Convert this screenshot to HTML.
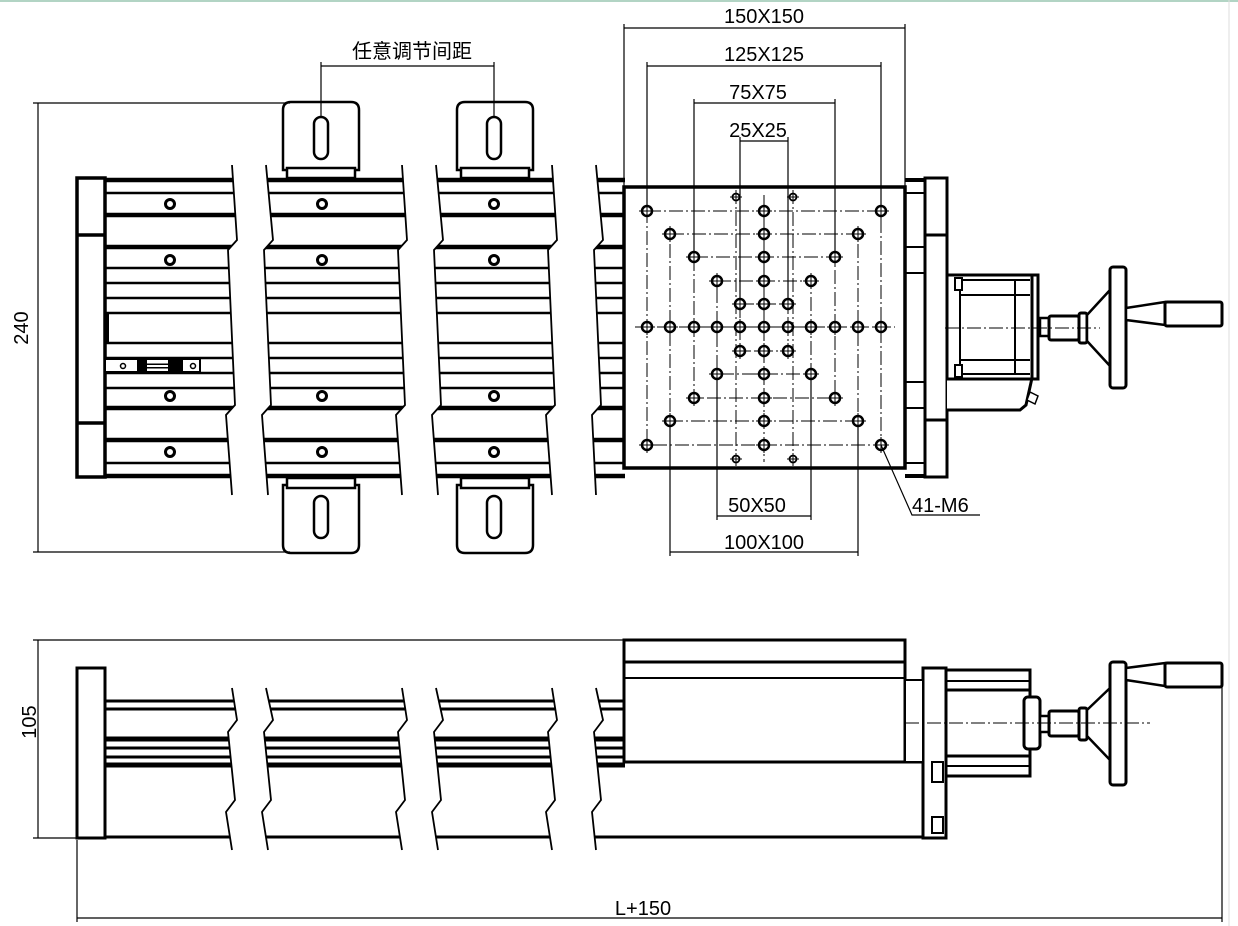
<!DOCTYPE html>
<html><head><meta charset="utf-8"><style>
html,body{margin:0;padding:0;background:#fff}
svg{display:block}
text{font-family:"Liberation Sans","Noto Sans CJK SC",sans-serif;font-size:20px;fill:#000}
</style></head><body>
<svg width="1238" height="926" viewBox="0 0 1238 926" xmlns="http://www.w3.org/2000/svg">
<defs>
<g id="h"><circle r="5" fill="#fff" stroke="#000" stroke-width="2.5"/><line x1="-8" y1="0" x2="8" y2="0" stroke="#000" stroke-width="1"/><line x1="0" y1="-8" x2="0" y2="8" stroke="#000" stroke-width="1"/></g>
<g id="hs"><circle r="3.5" fill="#fff" stroke="#000" stroke-width="1.8"/><line x1="-6" y1="0" x2="6" y2="0" stroke="#000" stroke-width="1"/><line x1="0" y1="-6" x2="0" y2="6" stroke="#000" stroke-width="1"/></g>
<g id="rh"><circle r="4.5" fill="#fff" stroke="#000" stroke-width="3"/></g>
</defs>
<line x1="0" y1="1" x2="1238" y2="1" stroke="#6a8" stroke-width="1"/>
<line x1="1229" y1="0" x2="1229" y2="926" stroke="#ddd" stroke-width="1"/>

<!-- ===== TOP VIEW ===== -->
<g stroke="#000" fill="none">
<g stroke-width="2.5">
<line x1="105" y1="193" x2="625" y2="193"/><line x1="105" y1="268" x2="625" y2="268"/>
<line x1="105" y1="283" x2="625" y2="283"/><line x1="105" y1="298" x2="625" y2="298"/>
<line x1="105" y1="313" x2="625" y2="313"/><line x1="105" y1="343" x2="625" y2="343"/>
<line x1="105" y1="358" x2="625" y2="358"/><line x1="105" y1="373" x2="625" y2="373"/>
<line x1="105" y1="388" x2="625" y2="388"/><line x1="105" y1="463" x2="625" y2="463"/>
</g>
<g stroke-width="4.5">
<line x1="77" y1="180" x2="625" y2="180"/><line x1="105" y1="215" x2="625" y2="215"/>
<line x1="105" y1="247" x2="625" y2="247"/><line x1="105" y1="408" x2="625" y2="408"/>
<line x1="105" y1="440" x2="625" y2="440"/><line x1="77" y1="476" x2="625" y2="476"/>
</g>
<line x1="905" y1="180" x2="947" y2="180" stroke-width="4"/>
<line x1="905" y1="476" x2="947" y2="476" stroke-width="4"/>
<g stroke-width="2"><line x1="905" y1="193" x2="925" y2="193"/><line x1="905" y1="247" x2="925" y2="247"/><line x1="905" y1="273" x2="925" y2="273"/><line x1="905" y1="382" x2="925" y2="382"/><line x1="905" y1="408" x2="925" y2="408"/><line x1="905" y1="463" x2="925" y2="463"/></g>
</g>
<g fill="#fff" stroke="none">
<polygon points="232,165 237,240 228,250 235,405 226,415 232,495 268,495 262,415 271,405 264,250 273,240 266,165"/>
<polygon points="402,165 407,240 398,250 405,405 396,415 402,495 438,495 432,415 441,405 434,250 443,240 436,165"/>
<polygon points="552,165 557,240 548,250 555,405 546,415 552,495 596,495 592,415 601,405 594,250 603,240 596,165"/>
</g>
<g stroke="#000" stroke-width="1.8" fill="none">
<polyline points="232,165 237,240 228,250 235,405 226,415 232,495"/>
<polyline points="266,165 273,240 264,250 271,405 262,415 268,495"/>
<polyline points="402,165 407,240 398,250 405,405 396,415 402,495"/>
<polyline points="436,165 443,240 434,250 441,405 432,415 438,495"/>
<polyline points="552,165 557,240 548,250 555,405 546,415 552,495"/>
<polyline points="596,165 603,240 594,250 601,405 592,415 596,495"/>
</g>
<g stroke="#000" stroke-width="3.5" fill="#fff">
<rect x="77" y="178" width="28" height="299"/>
<line x1="77" y1="235" x2="105" y2="235"/><line x1="77" y1="423" x2="105" y2="423"/>
</g>
<line x1="107" y1="313" x2="107" y2="343" stroke="#000" stroke-width="4"/>
<rect x="105" y="359" width="95" height="13" fill="#fff" stroke="#000" stroke-width="2"/>
<rect x="137" y="359" width="10" height="13" fill="#000"/><rect x="168" y="359" width="15" height="13" fill="#000"/>
<line x1="147" y1="366" x2="168" y2="366" stroke="#000" stroke-width="5"/>
<line x1="147" y1="366" x2="168" y2="366" stroke="#fff" stroke-width="2"/>
<circle cx="123" cy="366" r="2.5" fill="none" stroke="#000" stroke-width="1.5"/>
<circle cx="193" cy="366" r="2.5" fill="none" stroke="#000" stroke-width="1.5"/>
<use href="#rh" x="170" y="204"/><use href="#rh" x="322" y="204"/><use href="#rh" x="494" y="204"/>
<use href="#rh" x="170" y="260"/><use href="#rh" x="322" y="260"/><use href="#rh" x="494" y="260"/>
<use href="#rh" x="170" y="396"/><use href="#rh" x="322" y="396"/><use href="#rh" x="494" y="396"/>
<use href="#rh" x="170" y="452"/><use href="#rh" x="322" y="452"/><use href="#rh" x="494" y="452"/>
<g stroke="#000" stroke-width="2.5" fill="#fff">
<path d="M283,170 V110 Q283,102 291,102 H351 Q359,102 359,110 V170 Z"/>
<path d="M457,170 V110 Q457,102 465,102 H525 Q533,102 533,110 V170 Z"/>
<path d="M283,485 V545 Q283,553 291,553 H351 Q359,553 359,545 V485 Z"/>
<path d="M457,485 V545 Q457,553 465,553 H525 Q533,553 533,545 V485 Z"/>
<rect x="314" y="117" width="14" height="42" rx="7"/><rect x="487" y="117" width="14" height="42" rx="7"/>
<rect x="314" y="496" width="14" height="42" rx="7"/><rect x="487" y="496" width="14" height="42" rx="7"/>
<rect x="287" y="168" width="68" height="10"/><rect x="461" y="168" width="68" height="10"/>
<rect x="287" y="478" width="68" height="10"/><rect x="461" y="478" width="68" height="10"/>
</g>
<rect x="624" y="187" width="281" height="281" fill="#fff" stroke="#000" stroke-width="3.5"/>
<g stroke="#000" stroke-width="1" fill="none" stroke-dasharray="14,3,2,3">
<rect x="647" y="211" width="234" height="234"/>
<rect x="670" y="234" width="188" height="187"/>
<rect x="694" y="257" width="141" height="141"/>
<rect x="717" y="281" width="94" height="93"/>
<rect x="740" y="304" width="48" height="47"/>
<line x1="635" y1="327" x2="895" y2="327"/>
<line x1="764" y1="195" x2="764" y2="462"/>
<line x1="736" y1="190" x2="736" y2="466"/>
<line x1="793" y1="190" x2="793" y2="466"/>
</g>
<g>
<use href="#h" x="647" y="327"/><use href="#h" x="670" y="327"/><use href="#h" x="694" y="327"/><use href="#h" x="717" y="327"/><use href="#h" x="740" y="327"/><use href="#h" x="764" y="327"/><use href="#h" x="788" y="327"/><use href="#h" x="811" y="327"/><use href="#h" x="835" y="327"/><use href="#h" x="858" y="327"/><use href="#h" x="881" y="327"/>
<use href="#h" x="764" y="211"/><use href="#h" x="764" y="234"/><use href="#h" x="764" y="257"/><use href="#h" x="764" y="281"/><use href="#h" x="764" y="304"/><use href="#h" x="764" y="351"/><use href="#h" x="764" y="374"/><use href="#h" x="764" y="398"/><use href="#h" x="764" y="421"/><use href="#h" x="764" y="445"/>
<use href="#h" x="647" y="211"/><use href="#h" x="881" y="211"/><use href="#h" x="647" y="445"/><use href="#h" x="881" y="445"/>
<use href="#h" x="670" y="234"/><use href="#h" x="858" y="234"/><use href="#h" x="670" y="421"/><use href="#h" x="858" y="421"/>
<use href="#h" x="694" y="257"/><use href="#h" x="835" y="257"/><use href="#h" x="694" y="398"/><use href="#h" x="835" y="398"/>
<use href="#h" x="717" y="281"/><use href="#h" x="811" y="281"/><use href="#h" x="717" y="374"/><use href="#h" x="811" y="374"/>
<use href="#h" x="740" y="304"/><use href="#h" x="788" y="304"/><use href="#h" x="740" y="351"/><use href="#h" x="788" y="351"/>
<use href="#hs" x="736" y="197"/><use href="#hs" x="793" y="197"/><use href="#hs" x="736" y="459"/><use href="#hs" x="793" y="459"/>
</g>
<g stroke="#000" stroke-width="3" fill="#fff">
<rect x="925" y="178" width="22" height="299"/>
<line x1="925" y1="235" x2="947" y2="235"/><line x1="925" y1="420" x2="947" y2="420"/>
<path d="M947,378 H1032 L1026,405 L1020,410 H947"/>
<rect x="947" y="275" width="91" height="104"/>
<line x1="1032" y1="275" x2="1032" y2="379"/>
<line x1="960" y1="280" x2="1030" y2="280" stroke-width="2"/><line x1="960" y1="295" x2="1030" y2="295" stroke-width="2"/>
<line x1="960" y1="360" x2="1030" y2="360" stroke-width="2"/><line x1="960" y1="374" x2="1030" y2="374" stroke-width="2"/>
<line x1="960" y1="280" x2="960" y2="374" stroke-width="2"/><line x1="1015" y1="280" x2="1015" y2="374" stroke-width="2"/>
<rect x="955" y="278" width="7" height="12" stroke-width="2"/><rect x="955" y="365" width="7" height="12" stroke-width="2"/>
<rect x="1040" y="318" width="9" height="18" stroke-width="2.5"/>
<rect x="1049" y="316" width="30" height="24" rx="2"/>
<rect x="1079" y="313" width="8" height="30" rx="2"/>
<polygon points="1087,315 1110,290 1110,366 1087,341" stroke-width="2.5"/>
<rect x="1110" y="267" width="16" height="121" rx="3"/>
<polygon points="1126,308 1165,302 1165,325 1126,320" stroke-width="2.5"/>
<rect x="1165" y="302" width="57" height="24" rx="2"/>
<path d="M1030,392 l8,4 -3,8 -8,-4z" stroke-width="1.5"/>
</g>
<line x1="945" y1="328" x2="1100" y2="328" stroke="#000" stroke-width="1" stroke-dasharray="14,3,2,3"/>

<g stroke="#000" stroke-width="1.2" fill="none">
<line x1="38" y1="103" x2="38" y2="552"/><line x1="33" y1="103" x2="290" y2="103"/><line x1="33" y1="552" x2="290" y2="552"/>
<line x1="624" y1="28" x2="905" y2="28"/><line x1="624" y1="24" x2="624" y2="187"/><line x1="905" y1="24" x2="905" y2="187"/>
<line x1="647" y1="66" x2="881" y2="66"/><line x1="647" y1="62" x2="647" y2="205"/><line x1="881" y1="62" x2="881" y2="205"/>
<line x1="694" y1="103" x2="835" y2="103"/><line x1="694" y1="99" x2="694" y2="251"/><line x1="835" y1="99" x2="835" y2="251"/>
<line x1="740" y1="141" x2="788" y2="141"/><line x1="740" y1="137" x2="740" y2="298"/><line x1="788" y1="137" x2="788" y2="298"/>
<line x1="717" y1="516" x2="811" y2="516"/><line x1="717" y1="380" x2="717" y2="520"/><line x1="811" y1="380" x2="811" y2="520"/>
<line x1="670" y1="552" x2="858" y2="552"/><line x1="670" y1="427" x2="670" y2="556"/><line x1="858" y1="427" x2="858" y2="556"/>
<line x1="321" y1="66" x2="494" y2="66"/><line x1="321" y1="62" x2="321" y2="117"/><line x1="494" y1="62" x2="494" y2="117"/>
<polyline points="881,445 912,515 980,515"/>
</g>
<text x="28" y="328" transform="rotate(-90 28 328)" text-anchor="middle">240</text>
<text x="764" y="23" text-anchor="middle">150X150</text>
<text x="764" y="61" text-anchor="middle">125X125</text>
<text x="758" y="99" text-anchor="middle">75X75</text>
<text x="758" y="137" text-anchor="middle">25X25</text>
<text x="757" y="512" text-anchor="middle">50X50</text>
<text x="764" y="549" text-anchor="middle">100X100</text>
<text x="912" y="512">41-M6</text>
<text x="412" y="58" text-anchor="middle">任意调节间距</text>

<!-- ===== SIDE VIEW ===== -->
<g stroke="#000" fill="none">
<g stroke-width="3">
<line x1="105" y1="701" x2="625" y2="701"/><line x1="105" y1="709" x2="625" y2="709"/>
<line x1="105" y1="748" x2="625" y2="748"/><line x1="105" y1="757" x2="625" y2="757"/>
<line x1="105" y1="837" x2="947" y2="837"/>
</g>
<line x1="105" y1="739" x2="625" y2="739" stroke-width="5"/>
<line x1="105" y1="765" x2="625" y2="765" stroke-width="5"/>
</g>
<g fill="#fff" stroke="none">
<polygon points="232,688 237,720 228,732 235,800 226,812 232,850 268,850 262,812 271,800 264,732 273,720 266,688"/>
<polygon points="402,688 407,720 398,732 405,800 396,812 402,850 438,850 432,812 441,800 434,732 443,720 436,688"/>
<polygon points="552,688 557,720 548,732 555,800 546,812 552,850 596,850 592,812 601,800 594,732 603,720 596,688"/>
</g>
<g stroke="#000" stroke-width="1.8" fill="none">
<polyline points="232,688 237,720 228,732 235,800 226,812 232,850"/>
<polyline points="266,688 273,720 264,732 271,800 262,812 268,850"/>
<polyline points="402,688 407,720 398,732 405,800 396,812 402,850"/>
<polyline points="436,688 443,720 434,732 441,800 432,812 438,850"/>
<polyline points="552,688 557,720 548,732 555,800 546,812 552,850"/>
<polyline points="596,688 603,720 594,732 601,800 592,812 596,850"/>
</g>
<g stroke="#000" stroke-width="3" fill="#fff">
<rect x="77" y="668" width="28" height="170"/>
<rect x="624" y="640" width="281" height="122"/>
<line x1="624" y1="662" x2="905" y2="662"/><line x1="624" y1="678" x2="905" y2="678" stroke-width="2"/>
<line x1="624" y1="762" x2="925" y2="762"/>
<rect x="923" y="668" width="23" height="170"/>
<rect x="905" y="680" width="18" height="82" stroke-width="2"/>
<rect x="932" y="762" width="11" height="20" stroke-width="2"/>
<rect x="932" y="817" width="11" height="16" stroke-width="2"/>
<rect x="946" y="670" width="84" height="106"/>
<line x1="946" y1="690" x2="1030" y2="690"/><line x1="946" y1="756" x2="1030" y2="756"/>
<line x1="946" y1="681" x2="1030" y2="681" stroke-width="2"/><line x1="946" y1="766" x2="1030" y2="766" stroke-width="2"/>
<rect x="1024" y="697" width="16" height="52" rx="4"/>
<rect x="1040" y="716" width="9" height="16" stroke-width="2.5"/>
<rect x="1049" y="711" width="30" height="25" rx="2"/>
<rect x="1079" y="708" width="8" height="32" rx="2"/>
<polygon points="1087,710 1110,688 1110,760 1087,736" stroke-width="2.5"/>
<rect x="1110" y="662" width="16" height="123" rx="3"/>
<polygon points="1126,668 1165,663 1165,686 1126,680" stroke-width="2.5"/>
<rect x="1165" y="663" width="57" height="24" rx="2"/>
</g>
<line x1="905" y1="723" x2="1150" y2="723" stroke="#000" stroke-width="1" stroke-dasharray="14,3,2,3"/>
<g stroke="#000" stroke-width="1.2" fill="none">
<line x1="38" y1="640" x2="38" y2="838"/><line x1="33" y1="640" x2="624" y2="640"/><line x1="33" y1="838" x2="77" y2="838"/>
<line x1="77" y1="918" x2="1222" y2="918"/><line x1="77" y1="840" x2="77" y2="922"/><line x1="1222" y1="687" x2="1222" y2="922"/>
</g>
<text x="28" y="730" transform="rotate(-90 28 722)" text-anchor="middle">105</text>
<text x="643" y="915" text-anchor="middle">L+150</text>
</svg>
</body></html>
